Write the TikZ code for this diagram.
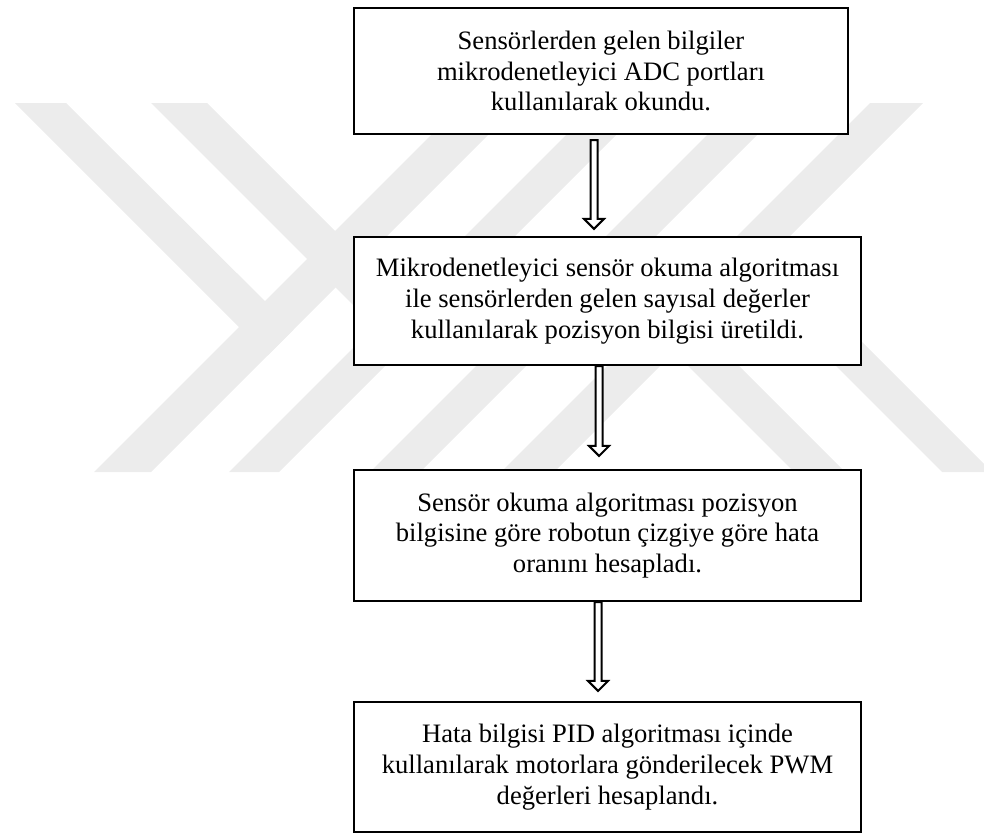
\documentclass[tikz,border=0pt]{standalone}
\usepackage{fontspec}
\setmainfont{Liberation Serif}
\usepackage{tikz}
\usetikzlibrary{calc}
\definecolor{yokgray}{RGB}{236,236,236}

\begin{document}
\begin{tikzpicture}[x=0.5pt, y=-0.5pt]
		\tikzstyle{every node}=[font=\fontsize{13.3}{15.45}\selectfont]
		\tikzstyle{wmark}=[fill=yokgray, draw=none]
		\tikzstyle{flowbox}=[draw, line width=1.1pt, fill=white, align=center, inner sep=0pt]
		\tikzstyle{hollowarrow}=[draw, line width=1pt, fill=white, line join=miter]
		\useasboundingbox (0,0) rectangle (984,835);
		
		% watermark
		\fill[wmark] (15,103) -- (66,103) -- (293.5,329.5) -- (267.5,355.5) -- cycle;
		\fill[wmark] (151,103) -- (207,103) -- (427.5,323.5) -- (399.5,351.5) -- cycle;
		\fill[wmark] (94,472) -- (151,472) -- (520,103) -- (463,103) -- cycle;
		\fill[wmark] (229,472) -- (279,472) -- (648,103) -- (598,103) -- cycle;
		\fill[wmark] (370,472) -- (420,472) -- (789,103) -- (739,103) -- cycle;
		\fill[wmark] (501,472) -- (554,472) -- (923,103) -- (870,103) -- cycle;
		\fill[wmark] (622,300) -- (673,300) -- (845,472) -- (794,472) -- cycle;
		\fill[wmark] (730,260) -- (780,260) -- (984,464) -- (984,472) -- (942,472) -- cycle;
		
		% boxes
		\node[flowbox, minimum width=247pt, minimum height=63pt] (adc) at (601,71) {Sensörlerden gelen bilgiler\\ mikrodenetleyici ADC portları\\ kullanılarak okundu.};
		\node[flowbox, minimum width=253.5pt, minimum height=64pt] (konum) at (607.5,301) {Mikrodenetleyici sensör okuma algoritması\\ ile sensörlerden gelen sayısal değerler\\ kullanılarak pozisyon bilgisi üretildi.};
		\node[flowbox, minimum width=253.5pt, minimum height=65.5pt] (hata) at (607.5,535.5) {Sensör okuma algoritması pozisyon\\ bilgisine göre robotun çizgiye göre hata\\ oranını hesapladı.};
		\node[flowbox, minimum width=253.5pt, minimum height=65pt] (pwm) at (607.5,767) {Hata bilgisi PID algoritması içinde\\ kullanılarak motorlara gönderilecek PWM\\ değerleri hesaplandı.};
		
		% arrows
		\draw[hollowarrow] let \p1=([xshift=-3.5pt,yshift=-2.5pt]adc.south), \p2=([yshift=3.5pt]konum.north) in
			(\x1-1.75pt,\y1) -- (\x1-1.75pt,\y2+5pt) -- (\x1-5pt,\y2+5pt) -- (\x1,\y2) -- (\x1+5pt,\y2+5pt) -- (\x1+1.75pt,\y2+5pt) -- (\x1+1.75pt,\y1) -- cycle;
		\draw[hollowarrow] let \p1=([xshift=-4.25pt]konum.south), \p2=([yshift=6.5pt]hata.north) in
			(\x1-1.75pt,\y1) -- (\x1-1.75pt,\y2+5pt) -- (\x1-5pt,\y2+5pt) -- (\x1,\y2) -- (\x1+5pt,\y2+5pt) -- (\x1+1.75pt,\y2+5pt) -- (\x1+1.75pt,\y1) -- cycle;
		\draw[hollowarrow] let \p1=([xshift=-4.75pt]hata.south), \p2=([yshift=5pt]pwm.north) in
			(\x1-1.75pt,\y1) -- (\x1-1.75pt,\y2+5pt) -- (\x1-5pt,\y2+5pt) -- (\x1,\y2) -- (\x1+5pt,\y2+5pt) -- (\x1+1.75pt,\y2+5pt) -- (\x1+1.75pt,\y1) -- cycle;
		
	\end{tikzpicture}
\end{document}
